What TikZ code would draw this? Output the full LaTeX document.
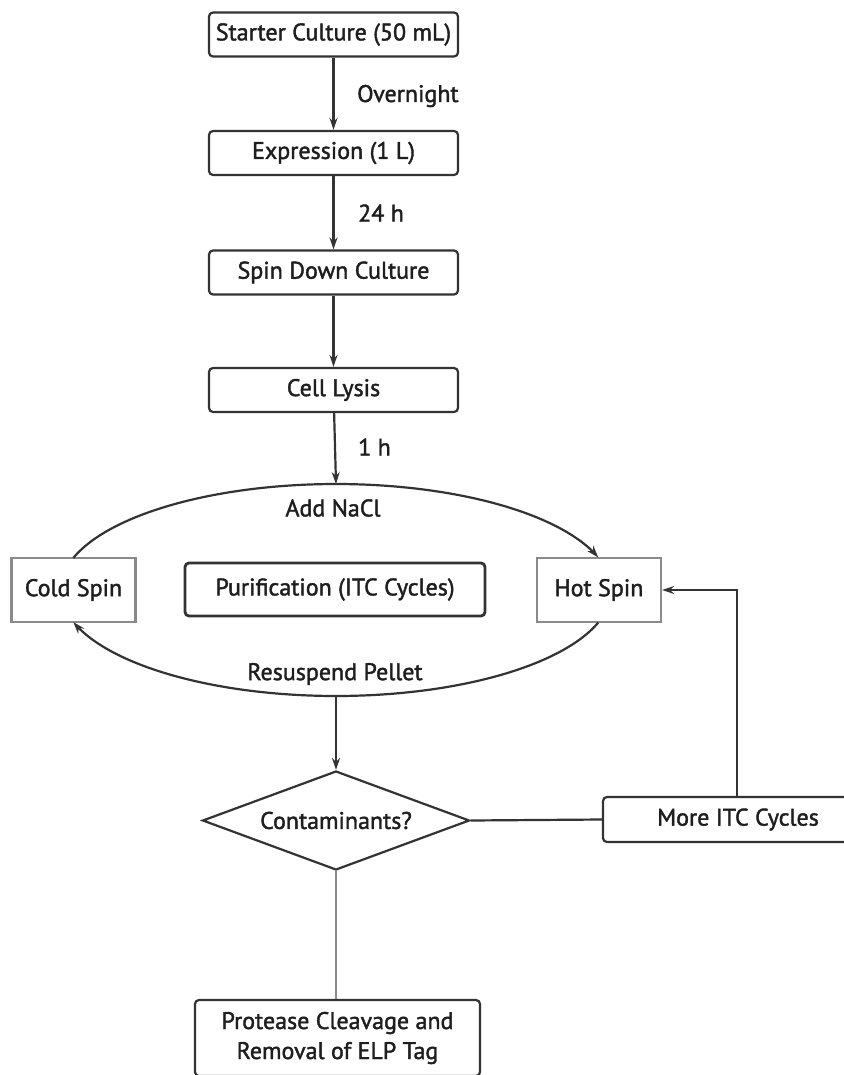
\documentclass[tikz,border=0pt]{standalone}
\usepackage{fontspec}
\setmainfont[FakeBold=1.6]{PT Sans}
\usetikzlibrary{shapes.geometric,arrows.meta}
\definecolor{lc}{HTML}{333333}
\definecolor{lg}{HTML}{8A8A8A}
\definecolor{tc}{HTML}{1E1E1E}
\begin{document}
\begin{tikzpicture}[x=1pt,y=-1pt,
  txt/.style={text=tc, font=\fontsize{24}{27}\selectfont},
  box/.style={txt, draw=lc, line width=2.2pt, rounded corners=4pt, minimum width=249pt, minimum height=44pt, inner sep=0pt},
  sqbox/.style={txt, draw=lg, line width=2.2pt, minimum width=124pt, minimum height=64pt, inner sep=0pt},
  dec/.style={txt, draw=lc, line width=2.2pt, diamond, aspect=2.7, minimum width=267pt, minimum height=99pt, inner sep=0pt},
  lbl/.style={txt, inner sep=0pt},
  conn/.style={draw=lc, line width=2.2pt},
  arr/.style={conn, -{Stealth[length=12pt,width=8pt]}},
  gconn/.style={draw=lg, line width=2.4pt}
]
\useasboundingbox (0,0) rectangle (843,1075);
\fill[white] (0,0) rectangle (843,1075);

\node[box] (starter) at (333.5,34.5) {Starter Culture (50 mL)};
\node[box] (expr) at (333.5,153) {Expression (1 L)};
\node[box] (spin) at (333.5,272.5) {Spin Down Culture};
\node[box] (lysis) at (333.5,390) {Cell Lysis};

\node[sqbox] (cold) at (73.5,590) {Cold Spin};
\node[sqbox] (hot) at (599,590) {Hot Spin};
\node[box, minimum width=300pt, minimum height=53pt, line width=2.8pt] (puri) at (335,589.5) {Purification (ITC Cycles)};

\coordinate (etop) at (336,484);
\coordinate (ebot) at (336,696);

\node[dec] (cont) at (336,820.5) {Contaminants?};
\node[box, minimum width=270pt, minimum height=45pt] (more) at (738,819.5) {More ITC Cycles};
\node[box, minimum width=285pt, minimum height=76pt, align=center, font=\fontsize{24}{30}\selectfont] (prot) at (337.5,1038) {Protease Cleavage and\\Removal of ELP Tag};

\node[lbl, anchor=west] (l1) at (357,96) {Overnight};
\node[lbl, anchor=west] (l2) at (358,213) {24 h};
\node[lbl, anchor=west] (l3) at (358,447) {1 h};
\node[lbl] (l4) at (333,508) {Add NaCl};
\node[lbl] (l5) at (335,674) {Resuspend Pellet};

\draw[arr] (starter) -- (expr);
\draw[arr] (expr) -- (spin);
\draw[arr] (spin) -- (lysis);
\draw[arr] (lysis) -- (etop);

\draw[arr] plot[domain=162.4:17.9, samples=90] ({336+275.6*cos(\x)},{590-106*sin(\x)});
\draw[arr] plot[domain=-17.9:-162.4, samples=90] ({336+275.6*cos(\x)},{590-106*sin(\x)});

\draw[arr] (ebot) -- (cont.north);
\draw[conn] (cont.east) -- (more.west);
\draw[arr] (more.north -| 737,0) |- (hot.east);
\draw[gconn] (cont.south) -- (prot.north -| cont.south);
\end{tikzpicture}
\end{document}
